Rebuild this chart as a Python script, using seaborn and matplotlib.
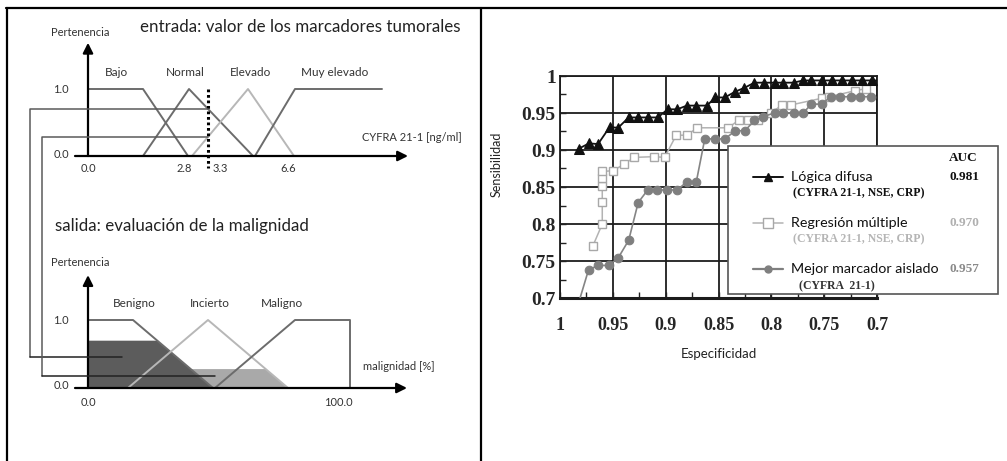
import numpy as np
import matplotlib
matplotlib.use("Agg")
import matplotlib.pyplot as plt
import seaborn as sns
from matplotlib.patches import Rectangle
from matplotlib.lines import Line2D

# ---------------- data: fuzzy input (diagram units) ----------------
bajo_u, bajo_m = [0, 55, 100], [1, 1, 0]
normal_u, normal_m = [55, 101, 165], [0, 1, 0]
elev_u, elev_m = [104, 160, 206], [0, 1, 0]
muy_u, muy_m = [167, 207, 294], [0, 1, 1]
in_labels = ["Bajo", "Normal", "Elevado", "Muy elevado"]
in_label_pos = [28, 97, 163, 247]
in_tick_pos = [0, 96, 132, 200]
in_tick_lab = ["0.0", "2.8", "3.3", "6.6"]
input_value = 120

# ---------------- data: fuzzy output ----------------
ben_u, ben_m = [0, 45, 125], [1, 1, 0]
inc_u, inc_m = [40, 120, 200], [0, 1, 0]
mal_u, mal_m = [127, 207, 262, 262], [0, 1, 1, 0]
out_labels = ["Benigno", "Incierto", "Maligno"]
out_label_pos = [46, 122, 194]
out_tick_pos = [0, 250]
out_tick_lab = ["0.0", "100.0"]

# ---------------- data: ROC curves ----------------
spec_fuzzy = [0.982, 0.9725, 0.964, 0.953, 0.945, 0.935, 0.926, 0.917, 0.9075, 0.898,
              0.889, 0.880, 0.871, 0.861, 0.853, 0.844, 0.834, 0.8255, 0.816, 0.8065,
              0.797, 0.7885, 0.779, 0.770, 0.762, 0.752, 0.743, 0.733, 0.724, 0.714,
              0.705, 0.697]
sens_fuzzy = [0.902, 0.909, 0.908, 0.931, 0.930, 0.944, 0.944, 0.944, 0.944, 0.955,
              0.955, 0.960, 0.960, 0.960, 0.971, 0.971, 0.979, 0.984, 0.991, 0.991,
              0.991, 0.991, 0.991, 0.994, 0.994, 0.994, 0.994, 0.994, 0.994, 0.994,
              0.994, 0.994]
spec_reg = [0.969, 0.960, 0.960, 0.960, 0.960, 0.960, 0.950, 0.939, 0.930, 0.911,
            0.901, 0.890, 0.880, 0.870, 0.841, 0.831, 0.822, 0.813, 0.800, 0.790,
            0.781, 0.752, 0.745, 0.721, 0.710]
sens_reg = [0.770, 0.800, 0.830, 0.852, 0.862, 0.871, 0.872, 0.881, 0.890, 0.891,
            0.890, 0.920, 0.920, 0.930, 0.930, 0.940, 0.941, 0.940, 0.950, 0.961,
            0.961, 0.970, 0.972, 0.980, 0.983]
spec_best = [0.981, 0.973, 0.964, 0.954, 0.945, 0.935, 0.926, 0.917, 0.908, 0.899,
             0.889, 0.880, 0.871, 0.863, 0.853, 0.844, 0.834, 0.825, 0.816, 0.808,
             0.797, 0.789, 0.779, 0.770, 0.762, 0.752, 0.744, 0.735, 0.725, 0.716,
             0.706]
sens_best = [0.700, 0.738, 0.744, 0.744, 0.754, 0.778, 0.829, 0.846, 0.846, 0.846,
             0.846, 0.857, 0.857, 0.915, 0.915, 0.915, 0.926, 0.926, 0.940, 0.945,
             0.950, 0.950, 0.950, 0.950, 0.962, 0.962, 0.972, 0.972, 0.972, 0.972,
             0.972]
roc_ticks = [1, 0.95, 0.9, 0.85, 0.8, 0.75, 0.7]
roc_tick_lab = ["1", "0.95", "0.9", "0.85", "0.8", "0.75", "0.7"]
model_names = ["Lógica difusa", "Regresión múltiple", "Mejor marcador aislado"]
model_sub = ["(CYFRA 21-1, NSE, CRP)", "(CYFRA 21-1, NSE, CRP)", "(CYFRA  21-1)"]
model_auc = ["0.981", "0.970", "0.957"]

# ---------------- style ----------------
sns.set_style("white")
plt.rcParams["font.family"] = ["Lato", "DejaVu Sans"]
SERIF = "Liberation Serif"

W, H, DPI = 1007, 461, 100
fig = plt.figure(figsize=(W / DPI, H / DPI), dpi=DPI)


def px_axes(x0, y0, x1, y1, **kw):
    return fig.add_axes([x0 / W, 1 - y1 / H, (x1 - x0) / W, (y1 - y0) / H], **kw)


DARK_LINE = "#6c6c6c"
LIGHT_LINE = "#b7b7b7"
TXT = "#333333"
LBL = 8.5
TCK = 8

# ---------------- top diagram ----------------
axT = px_axes(0, 12, 480, 200)
axT.set_xlim(-88, 392)
axT.set_ylim((156 - 200) / 67, (156 - 12) / 67)
axT.axis("off")
axT.patch.set_alpha(0)
for u, m, c in [(bajo_u, bajo_m, DARK_LINE), (normal_u, normal_m, DARK_LINE),
                (elev_u, elev_m, LIGHT_LINE), (muy_u, muy_m, DARK_LINE)]:
    axT.plot(u, m, color=c, lw=1.4, zorder=3)
arrow_kw = dict(arrowstyle="-|>,head_length=0.6,head_width=0.3", color="black", lw=1.6,
                shrinkA=0, shrinkB=0)
axT.annotate("", xy=(320, 0), xytext=(-13, 0), arrowprops=arrow_kw)
axT.annotate("", xy=(0, 1.69), xytext=(0, 0), arrowprops=arrow_kw)
axT.plot([input_value, input_value], [1.0, -0.18], color="black", lw=2.2,
         linestyle=(0, (0.9, 0.9)), zorder=5)
for lab, pos in zip(in_labels, in_label_pos):
    axT.text(pos, 1.24, lab, ha="center", va="center", fontsize=LBL, color=TXT)
for lab, pos in zip(in_tick_lab, in_tick_pos):
    axT.text(pos, -0.19, lab, ha="center", va="center", fontsize=TCK, color=TXT)
axT.text(-27, 1.0, "1.0", ha="center", va="center", fontsize=TCK, color=TXT)
axT.text(-27, 0.02, "0.0", ha="center", va="center", fontsize=TCK, color=TXT)
axT.text(374, 0.27, "CYFRA 21-1 [ng/ml]", ha="right", va="center", fontsize=TCK, color=TXT)
axT.text(-8, 1.84, "Pertenencia", ha="center", va="center", fontsize=TCK, color=TXT)
axT.text(52, 1.93, "entrada: valor de los marcadores tumorales", ha="left", va="center",
         fontsize=12.2, color="#222222")

level_a = float(np.interp(input_value, normal_u, normal_m))
level_b = float(np.interp(input_value, elev_u, elev_m))

# ---------------- bottom diagram ----------------
axB = px_axes(0, 205, 480, 455)
axB.set_xlim(-88, 392)
axB.set_ylim((388 - 455) / 68, (388 - 205) / 68)
axB.axis("off")
axB.patch.set_alpha(0)
uu_i = np.linspace(inc_u[0], inc_u[-1], 400)
axB.fill_between(uu_i, 0, np.minimum(np.interp(uu_i, inc_u, inc_m), level_b),
                 color="#a9a9a9", lw=0, zorder=1)
uu_b = np.linspace(ben_u[0], ben_u[-1], 400)
axB.fill_between(uu_b, 0, np.minimum(np.interp(uu_b, ben_u, ben_m), level_a),
                 color="#5c5c5c", lw=0, zorder=2)
for u, m, c in [(ben_u, ben_m, DARK_LINE), (inc_u, inc_m, LIGHT_LINE), (mal_u, mal_m, DARK_LINE)]:
    axB.plot(u, m, color=c, lw=1.4, zorder=3)
axB.annotate("", xy=(319, 0), xytext=(-13, 0), arrowprops=arrow_kw)
axB.annotate("", xy=(0, 1.66), xytext=(0, 0), arrowprops=arrow_kw)
for lab, pos in zip(out_labels, out_label_pos):
    axB.text(pos, 1.24, lab, ha="center", va="center", fontsize=LBL, color=TXT)
for lab, pos in zip(out_tick_lab, out_tick_pos):
    axB.text(pos, -0.22, lab, ha="center", va="center", fontsize=TCK, color=TXT)
axB.text(-27, 1.0, "1.0", ha="center", va="center", fontsize=TCK, color=TXT)
axB.text(-27, 0.04, "0.0", ha="center", va="center", fontsize=TCK, color=TXT)
axB.text(275, 0.31, "malignidad [%]", ha="left", va="center", fontsize=TCK, color=TXT)
axB.text(-8, 1.84, "Pertenencia", ha="center", va="center", fontsize=TCK, color=TXT)
axB.text(-33, 2.38, "salida: evaluación de la malignidad", ha="left", va="center",
         fontsize=12.2, color="#222222")

# ---------------- ROC chart ----------------
axR = px_axes(560, 76, 877, 298)
axR.set_xlim(1, 0.7)
axR.set_ylim(0.7, 1.0)
axR.set_axisbelow(True)
axR.grid(True, which="major", color="#1c1c1c", lw=1.3)
sns.lineplot(x=spec_reg, y=sens_reg, sort=False, estimator=None, ax=axR, color="#b3b3b3",
             marker="s", markersize=6, markerfacecolor="white", markeredgecolor="#a8a8a8",
             markeredgewidth=1.0, lw=1.1, zorder=4)
sns.lineplot(x=spec_best, y=sens_best, sort=False, estimator=None, ax=axR, color="#858585",
             marker="o", markersize=6.2, markerfacecolor="#7f7f7f", markeredgecolor="#7f7f7f",
             lw=1.2, markevery=list(range(1, len(spec_best))), zorder=5)
sns.lineplot(x=spec_fuzzy, y=sens_fuzzy, sort=False, estimator=None, ax=axR, color="#111111",
             marker="^", markersize=6.8, markerfacecolor="#111111", markeredgecolor="#111111",
             lw=1.3, markevery=list(range(len(spec_fuzzy) - 1)), zorder=6)
axR.set_xticks(roc_ticks)
axR.set_xticklabels(roc_tick_lab)
axR.set_yticks(roc_ticks)
axR.set_yticklabels(roc_tick_lab)
axR.set_xticks(np.arange(0.725, 1.0, 0.05), minor=True)
axR.set_yticks(np.arange(0.725, 1.0, 0.05), minor=True)
axR.tick_params(which="minor", direction="in", length=4, width=1, color="#222222",
                bottom=True, left=True)
axR.tick_params(which="major", direction="in", length=4, width=1, color="#222222",
                bottom=True, left=True)
for t in axR.get_xticklabels():
    t.set_fontfamily(SERIF)
    t.set_fontweight("bold")
    t.set_fontsize(13)
for t in axR.get_yticklabels():
    t.set_fontfamily(SERIF)
    t.set_fontweight("bold")
    t.set_fontsize(14)
axR.tick_params(axis="x", which="major", pad=14)
axR.tick_params(axis="y", which="major", pad=3)
for s in axR.spines.values():
    s.set_color("#1c1c1c")
    s.set_linewidth(1.3)
axR.spines["bottom"].set_linewidth(2.2)
axR.set_xlabel("Especificidad", fontsize=9.5, color="#222222")
axR.xaxis.set_label_coords(0.5, -0.225)
axR.set_ylabel("Sensibilidad", fontsize=9, color="#222222")
axR.yaxis.set_label_coords(-0.18, 0.60)

# ---------------- overlay: frame, connectors, legend ----------------
ov = fig.add_axes([0, 0, 1, 1], zorder=20)
ov.set_xlim(0, W)
ov.set_ylim(H, 0)
ov.axis("off")
ov.patch.set_alpha(0)


def to_ov(ax, u, m):
    return ov.transData.inverted().transform(ax.transData.transform((u, m)))


ov.plot([6, W], [8.5, 8.5], color="black", lw=1.6)
ov.plot([6.5, 6.5], [8, H], color="black", lw=1.6)
ov.plot([481, 481], [8, H], color="black", lw=1.6)

for (x_left, lvl_top, lvl_bot, u_end) in [(-58, level_a, 0.456, 34), (-46, level_b, 0.176, 127)]:
    pts = [to_ov(axT, input_value, lvl_top), to_ov(axT, x_left, lvl_top),
           to_ov(axB, x_left, lvl_bot), to_ov(axB, u_end, lvl_bot)]
    pts = np.array(pts)
    ov.plot(pts[:3, 0], pts[:3, 1], color="#5a5a5a", lw=1.1)
    ov.plot(pts[2:, 0], pts[2:, 1], color="#222222", lw=1.1)

ov.add_patch(Rectangle((728, 146), 270, 148, facecolor="white", edgecolor="#555555", lw=1.2))
ov.text(963, 158, "AUC", ha="center", va="center", fontsize=9.5, fontfamily=SERIF,
        fontweight="bold", color="#111111")
leg_style = [
    dict(color="#111111", marker="^", mfc="#111111", mec="#111111", ms=6, lw=1.4),
    dict(color="#b3b3b3", marker="s", mfc="white", mec="#a8a8a8", ms=7, lw=1.1),
    dict(color="#7f7f7f", marker="o", mfc="#7f7f7f", mec="#7f7f7f", ms=5, lw=1.6),
]
leg_y = [177, 223, 269]
sub_y = [193, 239, 286]
sub_x = [793, 793, 799]
auc_col = ["#111111", "#b0b0b0", "#8a8a8a"]
sub_col = ["#111111", "#b5b5b5", "#333333"]
for i in range(3):
    ov.add_line(Line2D([753, 783], [leg_y[i], leg_y[i]], markevery=[], **leg_style[i]))
    ov.plot([768], [leg_y[i]], linestyle="none", marker=leg_style[i]["marker"],
            mfc=leg_style[i]["mfc"], mec=leg_style[i]["mec"], ms=leg_style[i]["ms"])
    ov.text(791, leg_y[i], model_names[i], ha="left", va="center", fontsize=10.3, color="#111111")
    ov.text(950, leg_y[i], model_auc[i], ha="left", va="center", fontsize=9.5, fontfamily=SERIF,
            fontweight="bold", color=auc_col[i])
    ov.text(sub_x[i], sub_y[i], model_sub[i], ha="left", va="center", fontsize=8.5,
            fontfamily=SERIF, fontweight="bold", color=sub_col[i])

fig.savefig("out.png", dpi=DPI, facecolor="white")
